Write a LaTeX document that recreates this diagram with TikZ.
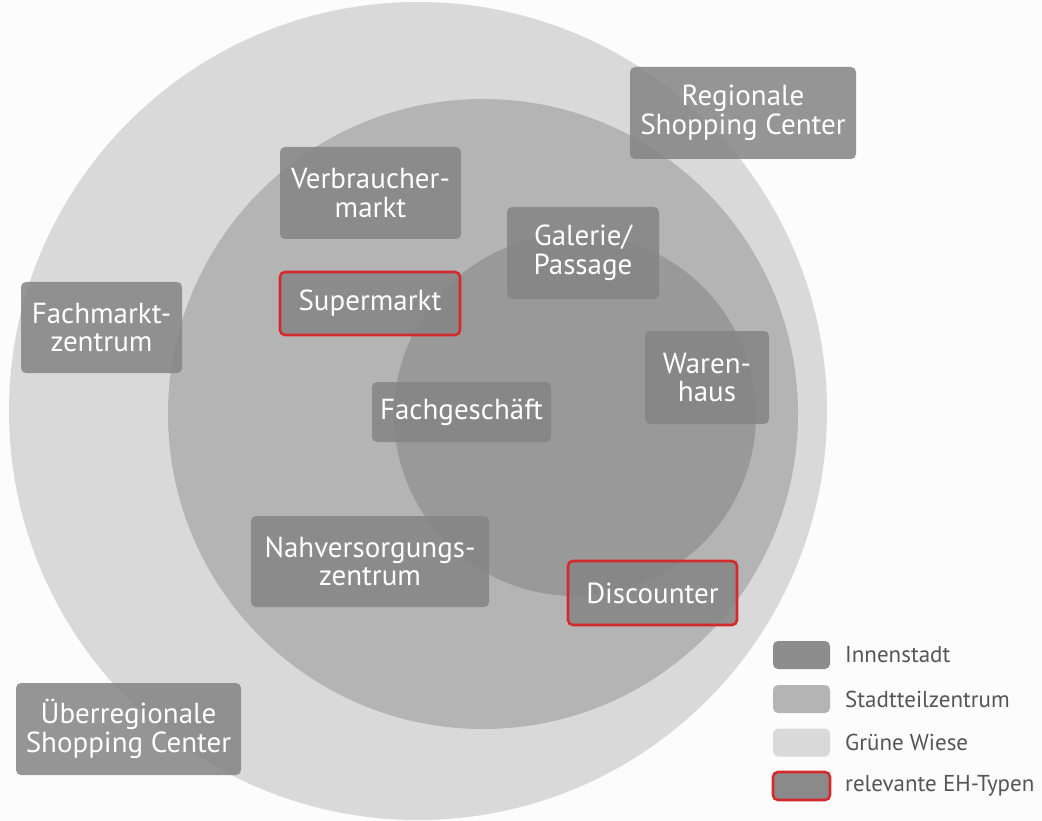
\documentclass[tikz,border=0pt]{standalone}
\usepackage{fontspec}
\setmainfont{PT Sans}
\definecolor{bgcol}{HTML}{FCFCFC}
\definecolor{outercol}{HTML}{D9D9D9}
\definecolor{midcol}{HTML}{B4B4B4}
\definecolor{innercol}{HTML}{999999}
\definecolor{boxcol}{HTML}{848484}
\definecolor{redcol}{HTML}{D32B2B}
\definecolor{legtext}{HTML}{555555}
\tikzset{
  box/.style={rounded corners=5pt, fill=boxcol, fill opacity=0.85, text opacity=1,
    text=white, align=center, inner sep=0pt, font=\fontsize{29}{28.5}\selectfont},
  redbox/.style={box, draw=redcol, line width=2.6pt},
  swatch/.style={rounded corners=5pt, minimum width=57pt, minimum height=28pt, inner sep=0pt},
  legtxt/.style={anchor=west, text=legtext, inner sep=0pt, font=\fontsize{23}{25}\selectfont}
}
\begin{document}
\begin{tikzpicture}[x=1pt,y=-1pt]
\fill[bgcol] (0,0) rectangle (1042,821);
\useasboundingbox (0,0) rectangle (1042,821);
% circles
\fill[outercol] (418,411) circle[radius=409pt];
\fill[midcol] (483,414) circle[radius=315pt];
\fill[innercol] (575,415) circle[radius=181pt];
% boxes
\node[box, minimum width=226pt, minimum height=92pt] (reg) at (743,113) {Regionale\\Shopping Center};
\node[box, minimum width=181pt, minimum height=92pt] (vb) at (370.5,193) {Verbraucher-\\markt};
\node[box, minimum width=152pt, minimum height=92pt] (gal) at (583,253) {Galerie/\\Passage};
\node[redbox, minimum width=180pt, minimum height=63pt] (sup) at (370,303.5) {Supermarkt};
\node[box, minimum width=161pt, minimum height=91pt] (fmz) at (101.5,327.5) {Fachmarkt-\\zentrum};
\node[box, minimum width=124pt, minimum height=93pt] (wh) at (707,377.5) {Waren-\\haus};
\node[box, minimum width=179pt, minimum height=60pt] (fg) at (461.5,412) {Fachgeschäft};
\node[box, minimum width=238pt, minimum height=91pt] (nvz) at (370,561.5) {Nahversorgungs-\\zentrum};
\node[redbox, minimum width=169pt, minimum height=64pt] (disc) at (652.5,593) {Discounter};
\node[box, minimum width=225pt, minimum height=92pt] (ueb) at (128.5,729) {Überregionale\\Shopping Center};
% legend
\node[swatch, fill=innercol!92!black] (l1) at (801.5,655) {};
\node[swatch, fill=midcol] (l2) at (801.5,699) {};
\node[swatch, fill=outercol] (l3) at (801.5,742.5) {};
\node[swatch, fill=boxcol!95!white, draw=redcol, line width=2.6pt] (l4) at (801.5,786) {};
\node[legtxt] (t1) at (845,655) {Innenstadt};
\node[legtxt] (t2) at (845,699) {Stadtteilzentrum};
\node[legtxt] (t3) at (845,742.5) {Grüne Wiese};
\node[legtxt] (t4) at (845,786) {relevante EH-Typen};
\end{tikzpicture}
\end{document}
